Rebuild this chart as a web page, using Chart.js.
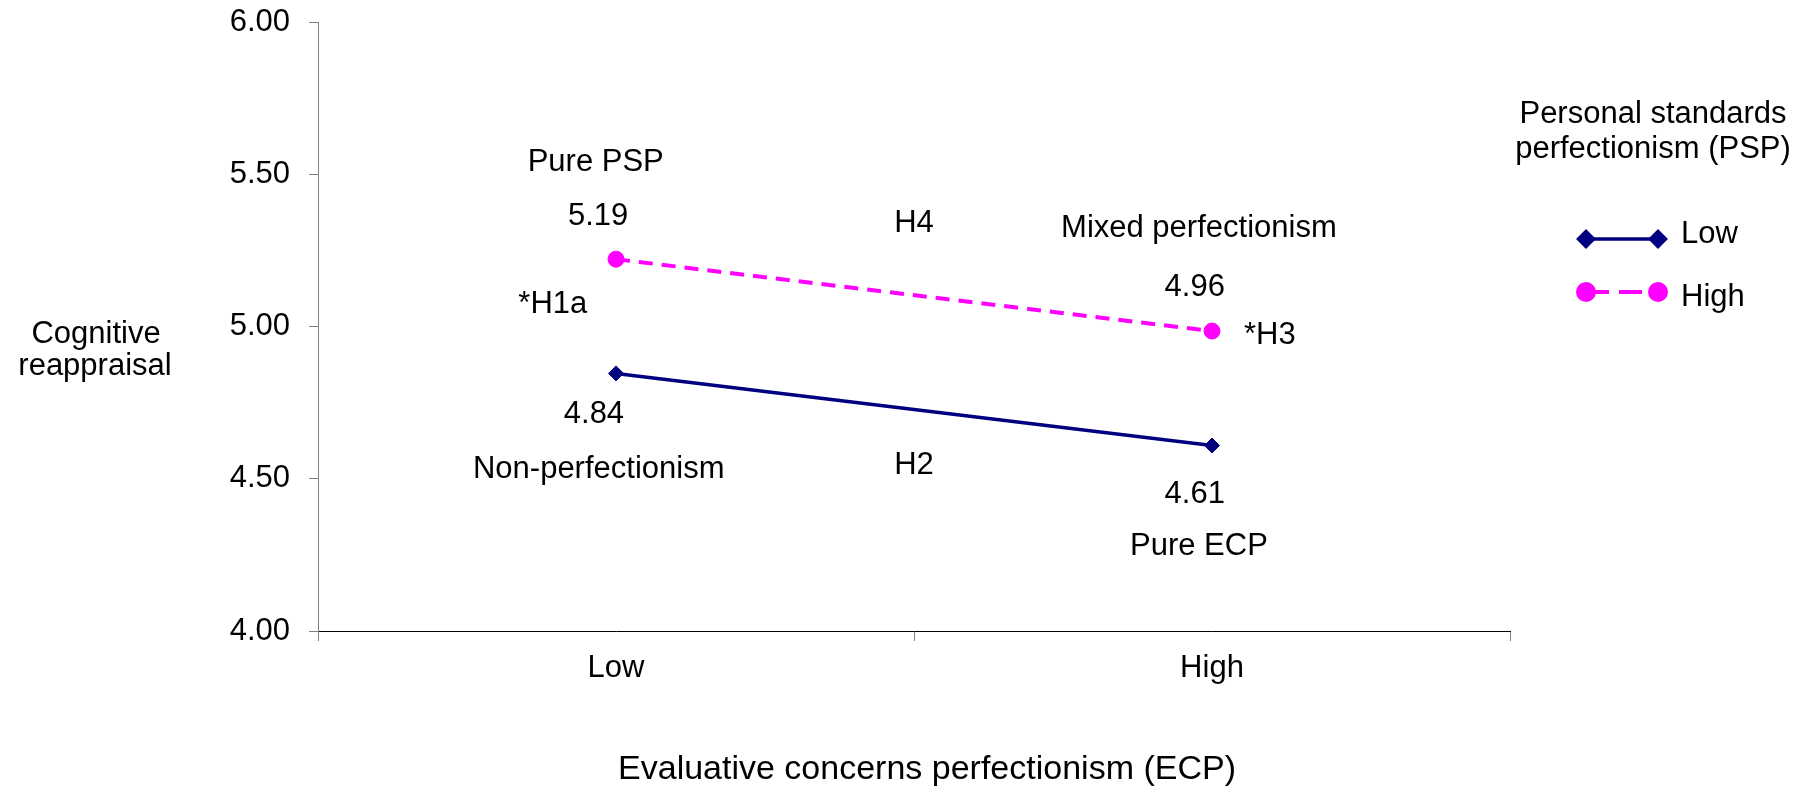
<!DOCTYPE html>
<html>
<head>
<meta charset="utf-8">
<script src="https://cdn.jsdelivr.net/npm/chart.js"></script>
<style>
  html, body { margin: 0; padding: 0; background: #fff; }
  canvas { display: block; }
</style>
</head>
<body>
<canvas id="chart" width="1814" height="790"></canvas>
<script>
// data
const ecpLevels = ['Low', 'High'];
const lowPsp = [4.846, 4.609];
const highPsp = [5.221, 4.985];
const yTicks = [4.0, 4.5, 5.0, 5.5, 6.0];
const seriesNames = ['Low', 'High'];

// annotation texts: [text, category position, value]
const notes = [
  ['Pure PSP', -0.034, 5.51],
  ['5.19', -0.03, 5.332],
  ['H4', 0.5, 5.309],
  ['Mixed perfectionism', 0.978, 5.293],
  ['4.96', 0.971, 5.1],
  ['*H1a', -0.106, 5.044],
  ['*H3', 1.097, 4.943],
  ['4.84', -0.037, 4.684],
  ['Non-perfectionism', -0.029, 4.501],
  ['H2', 0.5, 4.514],
  ['4.61', 0.971, 4.419],
  ['Pure ECP', 0.978, 4.249],
];

const FONT = '"Liberation Sans", Arial, sans-serif';
const NAVY = '#000080';
const PINK = '#FF00FF';

// free text: axis titles, annotations, legend
const textPlugin = {
  id: 'textPlugin',
  afterDraw(chart) {
    const ctx = chart.ctx;
    const x = chart.scales.x, y = chart.scales.y;
    ctx.save();
    ctx.fillStyle = '#000';
    ctx.font = '31px ' + FONT;
    ctx.textAlign = 'center';
    ctx.textBaseline = 'alphabetic';

    notes.forEach(n => {
      ctx.fillText(n[0], x.getPixelForValue(n[1]), y.getPixelForValue(n[2]));
    });

    // y title (horizontal, two lines)
    ctx.fillText('Cognitive', 96, 343);
    ctx.fillText('reappraisal', 95, 375);

    // legend
    ctx.fillText('Personal standards', 1653, 123);
    ctx.fillText('perfectionism (PSP)', 1653, 158);

    const rows = [239, 292];
    chart.data.datasets.forEach((ds, i) => {
      const ly = rows[i];
      ctx.save();
      ctx.strokeStyle = ds.borderColor;
      ctx.lineWidth = ds.borderWidth;
      ctx.setLineDash(ds.borderDash ? [23, 10] : []);
      ctx.beginPath();
      ctx.moveTo(1586, ly);
      ctx.lineTo(1658, ly);
      ctx.stroke();
      ctx.setLineDash([]);
      ctx.fillStyle = ds.pointBackgroundColor;
      ctx.strokeStyle = ds.pointBorderColor;
      [1586, 1658].forEach(px => {
        Chart.helpers.drawPoint(ctx, {
          pointStyle: ds.pointStyle, radius: ds.pointRadius, rotation: 0, borderWidth: 1
        }, px, ly);
      });
      ctx.restore();
      ctx.textAlign = 'left';
      ctx.fillText(ds.label, 1681, i === 0 ? 243 : 306);
      ctx.textAlign = 'center';
    });

    // x title
    ctx.font = '34px ' + FONT;
    ctx.fillText('Evaluative concerns perfectionism (ECP)', 927, 779);
    ctx.restore();
  }
};

new Chart(document.getElementById('chart'), {
  type: 'line',
  data: {
    labels: ecpLevels,
    datasets: [
      {
        label: seriesNames[0],
        data: lowPsp,
        borderColor: NAVY,
        backgroundColor: NAVY,
        borderWidth: 3.5,
        pointStyle: 'rectRot',
        pointRadius: 7.5,
        pointBackgroundColor: NAVY,
        pointBorderColor: NAVY,
        pointBorderWidth: 1,
      },
      {
        label: seriesNames[1],
        data: highPsp,
        borderColor: PINK,
        backgroundColor: PINK,
        borderWidth: 4,
        borderDash: [14, 9],
        pointStyle: 'circle',
        pointRadius: 8,
        pointBackgroundColor: PINK,
        pointBorderColor: PINK,
        pointBorderWidth: 1,
      }
    ]
  },
  options: {
    responsive: false,
    animation: false,
    devicePixelRatio: 1,
    layout: { padding: { left: 0, right: 304, top: 22, bottom: 0 } },
    plugins: {
      legend: { display: false },
      tooltip: { enabled: false },
    },
    scales: {
      x: {
        type: 'category',
        offset: true,
        grid: { offset: true, drawOnChartArea: false, tickLength: 10, color: '#808080' },
        border: { color: '#000', width: 1 },
        ticks: { font: { family: FONT, size: 31 }, color: '#000', padding: 9 },
        afterFit(scale) {
          scale.height = 159;
          scale.paddingLeft = 0;
          scale.paddingRight = 0;
        },
      },
      y: {
        min: 4,
        max: 6,
        afterBuildTicks(scale) { scale.ticks = yTicks.map(v => ({ value: v })); },
        grid: { drawOnChartArea: false, tickLength: 9, color: '#808080' },
        border: { color: '#808080', width: 1 },
        ticks: {
          font: { family: FONT, size: 31 },
          color: '#000',
          padding: 19,
          callback: v => Number(v).toFixed(2),
        },
        afterFit(scale) {
          scale.width = 318;
          scale.paddingTop = 0;
          scale.paddingBottom = 0;
        },
      }
    }
  },
  plugins: [textPlugin]
});
</script>
</body>
</html>
